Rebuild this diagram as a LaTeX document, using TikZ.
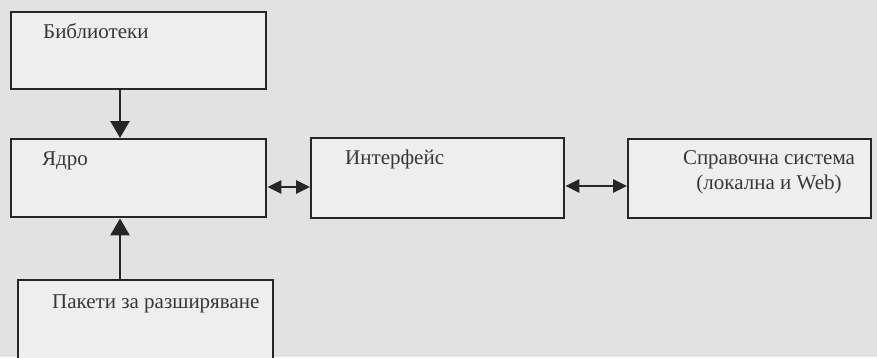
\documentclass[tikz,border=0pt]{standalone}
\usepackage{fontspec}
\setmainfont{Liberation Serif}
\usetikzlibrary{arrows.meta,calc}
\definecolor{paper}{RGB}{226,226,226}
\definecolor{boxfill}{RGB}{238,238,238}
\definecolor{ink}{RGB}{38,38,38}
\definecolor{txt}{RGB}{55,55,55}
\begin{document}
\begin{tikzpicture}[x=1pt,y=-1pt,
  box/.style={draw=ink,line width=2.4pt,fill=boxfill,rectangle,inner sep=0pt,anchor=north west},
  lbl/.style={text=txt,font=\fontsize{21}{25}\selectfont,inner sep=0pt},
  vline/.style={draw=ink,line width=2.8pt,-{Triangle[length=17pt,width=19pt]}},
  dline/.style={draw=ink,line width=2.8pt,{Triangle[length=14pt,width=13pt]}-{Triangle[length=14pt,width=13pt]}}]
\useasboundingbox (0,0) rectangle (877,357);
\clip (0,0) rectangle (877,357);
\fill[paper] (0,0) rectangle (877,357);

\node[box,minimum width=255pt,minimum height=77pt] (lib) at (10,11) {};
\node[box,minimum width=255pt,minimum height=78pt] (core) at (10,138) {};
\node[box,minimum width=255pt,minimum height=100pt] (pkg) at (17,279) {};
\node[box,minimum width=253pt,minimum height=80pt] (iface) at (310,137) {};
\node[box,minimum width=243pt,minimum height=79pt] (help) at (627,138) {};

\node[lbl,anchor=base west] (libt) at (43,38) {Библиотеки};
\node[lbl,anchor=base west] (coret) at (42,165) {Ядро};
\node[lbl,anchor=base west] (pkgt) at (52,308) {Пакети за разширяване};
\node[lbl,anchor=base west] (ifacet) at (345,164) {Интерфейс};
\node[lbl,align=center,anchor=center] (helpt) at (769,172) {Справочна система\\(локална и Web)};

\draw[vline] ($(lib.south west)+(110,0)$) -- ($(core.north west)+(110,0)$);
\draw[vline] ($(pkg.north west)+(103,0)$) -- ($(core.south west)+(110,0)$);
\draw[dline] ($(core.north east)+(0,49)$) -- ($(iface.north west)+(0,50)$);
\draw[dline] ($(iface.north east)+(0,49)$) -- ($(help.north west)+(0,48)$);
\end{tikzpicture}
\end{document}
